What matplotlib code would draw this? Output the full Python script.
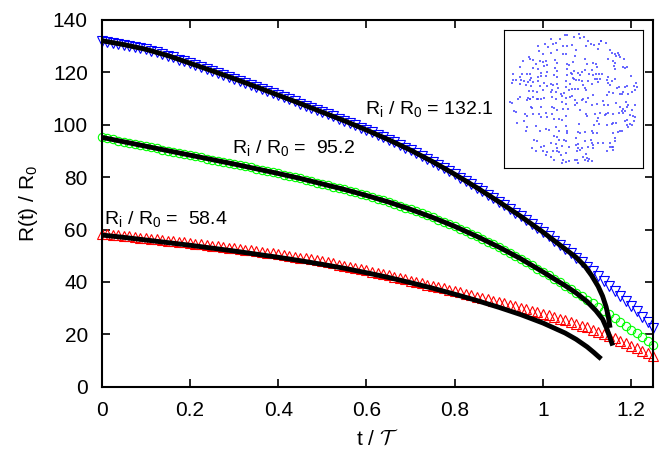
import numpy as np
import matplotlib
matplotlib.use('Agg')
import matplotlib.pyplot as plt

plt.rcParams['font.family'] = ['Liberation Sans', 'DejaVu Sans']
plt.rcParams['mathtext.fontset'] = 'custom'
plt.rcParams['mathtext.rm'] = 'Liberation Sans'
plt.rcParams['mathtext.it'] = 'Liberation Sans:italic'

# sampled radius R(t)/R0 for the three initial sizes (t/T from 0 to 1.25)
t_sim = np.linspace(0, 1.25, 101)

R_132 = [132.1, 131.7, 131.4, 131.0, 130.6, 130.2, 129.7, 129.2,
         128.8, 128.2, 127.6, 127.0, 126.4, 125.7, 124.9, 124.2,
         123.5, 122.8, 122.1, 121.3, 120.6, 119.8, 119.1, 118.3,
         117.6, 116.8, 116.1, 115.3, 114.5, 113.7, 112.9, 112.1,
         111.3, 110.5, 109.7, 108.9, 108.1, 107.3, 106.5, 105.6,
         104.8, 104.0, 103.2, 102.3, 101.5, 100.6, 99.8, 98.9,
         98.0, 97.1, 96.2, 95.2, 94.3, 93.3, 92.3, 91.3,
         90.3, 89.2, 88.1, 87.0, 85.9, 84.7, 83.5, 82.3,
         81.1, 79.8, 78.6, 77.3, 76.0, 74.7, 73.3, 72.0,
         70.6, 69.2, 67.8, 66.4, 65.0, 63.5, 62.0, 60.5,
         59.0, 57.4, 55.8, 54.2, 52.6, 50.9, 49.2, 47.5,
         45.8, 44.0, 42.2, 40.4, 38.6, 36.7, 34.7, 32.8,
         30.9, 28.8, 26.7, 24.6, 22.5]

R_95 = [95.2, 94.8, 94.4, 93.9, 93.5, 93.1, 92.7, 92.2,
        91.8, 91.4, 91.0, 90.5, 90.1, 89.7, 89.3, 88.8,
        88.4, 88.0, 87.6, 87.1, 86.7, 86.3, 85.9, 85.4,
        85.0, 84.6, 84.1, 83.7, 83.2, 82.8, 82.3, 81.9,
        81.4, 80.9, 80.5, 80.0, 79.5, 79.0, 78.5, 77.9,
        77.4, 76.9, 76.4, 75.8, 75.3, 74.7, 74.2, 73.6,
        73.0, 72.4, 71.8, 71.1, 70.5, 69.8, 69.1, 68.4,
        67.7, 66.9, 66.2, 65.4, 64.6, 63.8, 62.9, 62.1,
        61.2, 60.3, 59.3, 58.4, 57.4, 56.4, 55.4, 54.3,
        53.3, 52.2, 51.1, 49.9, 48.8, 47.6, 46.3, 45.1,
        43.8, 42.5, 41.2, 39.9, 38.6, 37.3, 35.9, 34.6,
        33.2, 31.8, 30.4, 29.0, 27.6, 26.2, 24.7, 23.3,
        21.8, 20.4, 18.9, 17.5, 16.0]

R_58 = [58.4, 58.2, 58.0, 57.8, 57.6, 57.4, 57.2, 56.9,
        56.7, 56.5, 56.3, 56.0, 55.8, 55.6, 55.3, 55.1,
        54.8, 54.6, 54.3, 54.1, 53.8, 53.6, 53.3, 53.1,
        52.8, 52.6, 52.3, 52.1, 51.8, 51.5, 51.2, 50.9,
        50.6, 50.3, 49.9, 49.6, 49.3, 49.0, 48.6, 48.3,
        47.9, 47.5, 47.1, 46.6, 46.2, 45.8, 45.3, 44.9,
        44.4, 43.9, 43.5, 43.0, 42.5, 42.0, 41.5, 41.0,
        40.5, 40.0, 39.5, 39.0, 38.5, 38.0, 37.5, 37.0,
        36.5, 36.0, 35.5, 34.9, 34.4, 33.9, 33.4, 32.8,
        32.3, 31.8, 31.2, 30.7, 30.1, 29.5, 29.0, 28.4,
        27.8, 27.2, 26.6, 25.9, 25.3, 24.6, 24.0, 23.3,
        22.6, 21.8, 21.0, 20.1, 19.3, 18.4, 17.5, 16.5,
        15.6, 14.6, 13.7, 12.7, 11.7]

# theory curves (black)
t_base = [0.0, 0.05, 0.1, 0.15, 0.2, 0.25, 0.3, 0.35, 0.4, 0.45, 0.5,
          0.55, 0.6, 0.65, 0.7, 0.75, 0.8, 0.85, 0.9, 0.95, 1.0, 1.05]

fit132_t = t_base + [1.075, 1.095, 1.11, 1.125, 1.135, 1.143, 1.148, 1.152]
fit132_R = [132.1, 130.6, 128.8, 126.4, 123.5, 120.6, 117.6, 114.5, 111.3, 108.1,
            104.8, 101.5, 98.0, 94.3, 90.3, 85.9, 81.1, 76.0, 70.6, 65.0, 59.0,
            52.6, 49.4, 46.0, 42.5, 38.3, 34.6, 30.5, 26.8, 22.5]

fit95_t = t_base + [1.075, 1.1, 1.12, 1.135, 1.145, 1.152, 1.158]
fit95_R = [95.2, 93.5, 91.8, 90.1, 88.4, 86.7, 85.0, 83.2, 81.4, 79.5, 77.4,
           75.3, 73.0, 70.5, 67.7, 64.6, 61.2, 57.4, 53.3, 48.8, 43.8, 38.6,
           35.8, 32.5, 29.0, 25.8, 22.0, 18.6, 15.7]

fit58_t = t_base + [1.075, 1.1, 1.115, 1.125, 1.132]
fit58_R = [57.9, 57.0, 56.0, 55.0, 54.0, 52.9, 51.8, 50.6, 49.4, 48.1, 46.7,
           45.2, 43.5, 41.7, 39.7, 37.6, 35.3, 32.9, 30.3, 27.5, 24.3, 20.5,
           18.1, 15.2, 13.1, 11.6, 10.6]

labels = ['R$_{\\rm i}$ / R$_0$ = 132.1', 'R$_{\\rm i}$ / R$_0$ =  95.2', 'R$_{\\rm i}$ / R$_0$ =  58.4']
label_t = [0.597, 0.295, 0.005]
label_R = [104.0, 89.1, 62.0]

# particle positions in the initial droplet (inset)
particles = [
    (-25, 192), (-18, 194), (-41, 182), (-66, 181), (-51, 169), (-61, 165), (-30, 159), (-19, 159),
    (-3, 162), (-106, 160), (-86, 167), (-77, 157), (-102, 145), (-91, 137), (-68, 139), (-50, 149),
    (-30, 135), (-22, 137), (-134, 127), (-131, 122), (-151, 115), (-120, 119), (-111, 106), (-100, 114),
    (-91, 112), (-81, 115), (-78, 102), (-88, 99), (-56, 119), (-48, 109), (-18, 107), (-13, 104),
    (-1, 112), (-160, 97), (-122, 95), (-106, 90), (-96, 79), (-80, 82), (-56, 95), (-50, 85),
    (-20, 92), (-8, 79), (-3, 77), (-180, 75), (-160, 67), (-155, 75), (-140, 77), (-130, 75),
    (-128, 65), (-106, 67), (-98, 69), (-81, 69), (-58, 72), (-48, 67), (-18, 72), (-1, 65),
    (-180, 57), (-173, 59), (-158, 57), (-148, 55), (-136, 52), (-130, 57), (-121, 52), (-105, 54),
    (-88, 50), (-68, 47), (-61, 42), (-48, 47), (-21, 55), (-11, 45), (-185, 50), (-160, 47),
    (-143, 42), (-126, 39), (-100, 39), (-78, 39), (-63, 29), (-53, 22), (-46, 35), (-23, 37),
    (-13, 29), (-5, 32), (-133, 25), (-121, 25), (-108, 22), (-90, 27), (-68, 22), (-38, 17),
    (-28, 19), (-160, 5), (-136, 2), (-131, 0), (-120, 7), (-108, 0), (-88, 4), (-63, 7),
    (-33, 9), (-23, 2), (-11, 7), (-3, 10),
    (2, 187), (16, 195), (21, 185), (32, 187), (44, 174), (51, 165), (39, 159), (61, 162),
    (76, 165), (81, 175), (74, 152), (82, 176), (97, 168), (109, 147), (114, 139), (123, 135),
    (127, 129), (136, 133), (132, 140), (140, 128), (150, 120), (9, 147), (4, 129), (34, 122),
    (41, 107), (59, 109), (67, 105), (71, 97), (104, 122), (117, 115), (124, 109), (121, 99),
    (123, 92), (149, 97), (154, 95), (159, 97), (171, 69), (2, 85), (14, 79), (19, 74),
    (26, 82), (34, 89), (47, 77), (54, 87), (59, 72), (66, 77), (77, 75), (84, 77),
    (64, 62), (69, 62), (79, 62), (74, 52), (99, 57), (104, 49), (109, 44), (114, 55),
    (124, 62), (104, 67), (2, 62), (9, 59), (16, 57), (26, 55), (44, 55), (54, 45),
    (29, 42), (34, 35), (39, 29), (14, 32), (4, 32), (129, 35), (137, 37), (154, 37),
    (159, 39), (181, 39), (189, 37), (188, 49), (184, 27), (174, 22), (164, 17), (149, 22),
    (144, 15), (139, 17), (119, 19), (107, 22), (99, 12), (57, 12), (44, 2), (29, -1),
    (-190, -9), (-183, -12), (-166, 0), (-138, -2), (-131, 0), (-105, 0), (-96, 0), (-53, 0),
    (-33, -9), (-23, -14), (-128, -25), (-123, -27), (-98, -24), (-63, -25), (-58, -27), (-48, -32),
    (-30, -29), (-16, -30), (-178, -35), (-173, -39), (-146, -45), (-138, -50), (-120, -45), (-103, -44),
    (-98, -55), (-83, -42), (-78, -55), (-63, -45), (-58, -59), (-43, -59), (-33, -62), (-23, -52),
    (-168, -72), (-148, -65), (-138, -85), (-113, -82), (-143, -95), (-100, -95), (-83, -89), (-73, -92),
    (-53, -85), (-23, -82), (-43, -97), (-18, -97), (-18, -102), (-58, -110), (-48, -115), (-43, -122),
    (-28, -122), (-23, -127), (-118, -122), (-110, -127), (-123, -147), (-68, -132), (-53, -135), (-88, -142),
    (-96, -145), (-48, -147), (-33, -142), (-13, -145), (-113, -157), (-90, -157), (-83, -167), (-78, -160),
    (-60, -157), (-48, -155), (-43, -160), (-38, -167), (-23, -162), (-68, -175), (-58, -182), (-30, -182),
    (-23, -189), (-13, -185), (-33, -192),
    (4, -2), (11, -12), (27, -2), (39, -9), (54, -17), (71, -15), (89, -7), (91, -19),
    (104, -17), (127, -12), (139, -25), (149, -29), (157, -9), (164, -19), (184, -19), (4, -17),
    (19, -32), (39, -45), (41, -52), (64, -45), (79, -42), (94, -49), (97, -45), (104, -42),
    (117, -45), (137, -42), (144, -37), (149, -42), (154, -37), (159, -25), (174, -32), (169, -47),
    (179, -52), (184, -55), (182, -65), (74, -57), (71, -67), (17, -75), (62, -77), (77, -75),
    (99, -77), (114, -75), (119, -72), (127, -72), (154, -67), (159, -62), (159, -77), (164, -85),
    (169, -75), (176, -79), (14, -99), (19, -102), (34, -99), (54, -97), (59, -102), (69, -102),
    (119, -102), (134, -99), (139, -95), (144, -97), (9, -117), (34, -125), (51, -122), (54, -132),
    (59, -137), (89, -132), (109, -132), (124, -117), (124, -125), (7, -137), (14, -135), (14, -147),
    (11, -155), (19, -152), (27, -147), (44, -145), (59, -147), (74, -132), (99, -155), (109, -145),
    (114, -145), (117, -152), (119, -145), (39, -165), (29, -175), (34, -182), (41, -177), (44, -185),
    (11, -182), (4, -182), (14, -192), (47, -179), (55, -185),
]
px = [p[0] for p in particles]
py = [p[1] for p in particles]

fig = plt.figure(figsize=(6.64, 4.5), dpi=100)
ax = fig.add_axes([0.1532, 0.1407, 0.8307, 0.8149])

ax.plot(t_sim, R_132, ls='none', marker='v', ms=6.5, mfc='none', mec='#0000ff', mew=0.8, clip_on=False, zorder=2)
ax.plot(t_sim, R_95, ls='none', marker='o', ms=6, mfc='none', mec='#00ff00', mew=0.8, clip_on=False, zorder=2)
ax.plot(t_sim, R_58, ls='none', marker='^', ms=6.5, mfc='none', mec='#ff0000', mew=0.8, clip_on=False, zorder=2)

for ft, fR in [(fit132_t, fit132_R), (fit95_t, fit95_R), (fit58_t, fit58_R)]:
    ax.plot(ft, fR, color='black', lw=3.5, zorder=3, solid_capstyle='butt')

for txt, lt, lR in zip(labels, label_t, label_R):
    ax.text(lt, lR, txt, fontsize=14, va='baseline', ha='left')

ax.set_xlim(0, 1.25)
ax.set_ylim(0, 140)
ax.set_xticks([0, 0.2, 0.4, 0.6, 0.8, 1.0, 1.2])
ax.set_xticklabels(['0', '0.2', '0.4', '0.6', '0.8', '1', '1.2'])
ax.set_yticks(range(0, 141, 20))
ax.tick_params(direction='in', top=True, right=True, length=5.5, width=1.2, labelsize=15, pad=10)
for s in ax.spines.values():
    s.set_linewidth(1.5)

ax.set_xlabel('t / $\\mathcal{T}$', fontsize=15, math_fontfamily='cm', labelpad=7)
ax.set_ylabel('R(t) / R$_0$', fontsize=15, labelpad=9)

# inset: initial configuration
axin = fig.add_axes([0.759, 0.626, 0.2093, 0.3073])
axin.scatter(px, py, s=2.2, marker='s', c='#4646ff', alpha=0.8, linewidths=0)
axin.set_xlim(-208, 208)
axin.set_ylim(-208, 208)
axin.set_xticks([])
axin.set_yticks([])
for s in axin.spines.values():
    s.set_linewidth(0.8)

fig.savefig('out.png', dpi=100)
